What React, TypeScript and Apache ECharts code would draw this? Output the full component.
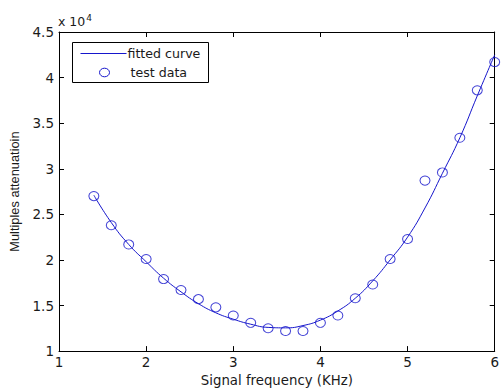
import React, { useEffect, useRef } from "react";
import * as echarts from "echarts";

const testX = [1.4, 1.6, 1.8, 2.0, 2.2, 2.4, 2.6, 2.8, 3.0, 3.2, 3.4, 3.6, 3.8, 4.0, 4.2, 4.4, 4.6, 4.8, 5.0, 5.2, 5.4, 5.6, 5.8, 6.0];
const testY = [27000, 23800, 21700, 20100, 17900, 16700, 15700, 14800, 13900, 13100, 12500, 12200, 12200, 13100, 13900, 15800, 17300, 20100, 22300, 28700, 29600, 33400, 38600, 41700];
const curveX = [1.4, 1.6, 1.8, 2.0, 2.2, 2.4, 2.6, 2.8, 3.0, 3.2, 3.4, 3.6, 3.8, 4.0, 4.2, 4.4, 4.6, 4.8, 5.0, 5.2, 5.4, 5.6, 5.8, 6.0];
const curveY = [27100, 24100, 21700, 19800, 18000, 16500, 15200, 14200, 13500, 12950, 12600, 12550, 12800, 13400, 14400, 15800, 17700, 20000, 22500, 25700, 29500, 33400, 38000, 42500];
const seriesNames = ["fitted curve", "test data"];

const HFONT = "DejaVu Sans";
const VFONT = "Liberation Sans";
const BLUE = "#1616cc";
const TXT = "#1a1a1a";

export default function App() {
  const ref = useRef<HTMLDivElement>(null);
  useEffect(() => {
    if (!ref.current) return;
    const chart = echarts.init(ref.current, undefined, { renderer: "svg" });
    const axisCommon = {
      type: "value" as const,
      axisLine: { show: true, onZero: false, lineStyle: { color: "#000", width: 1 } },
      axisTick: { show: true, inside: true, length: 5, lineStyle: { color: "#000" } },
      splitLine: { show: false },
    };
    chart.setOption({
      animation: false,
      backgroundColor: "#fff",
      textStyle: { fontFamily: HFONT },
      grid: { left: 58, right: 3, top: 32, bottom: 38, containLabel: false },
      xAxis: [
        {
          ...axisCommon,
          min: 1,
          max: 6,
          interval: 1,
          position: "bottom",
          name: "Signal frequency (KHz)",
          nameLocation: "middle",
          nameGap: 21,
          nameTextStyle: { fontFamily: HFONT, fontSize: 13.3, color: TXT },
          axisLabel: { fontFamily: HFONT, fontSize: 13.5, color: TXT, margin: 4 },
        },
        {
          ...axisCommon,
          min: 1,
          max: 6,
          interval: 1,
          position: "top",
          axisLabel: { show: false },
        },
      ],
      yAxis: [
        {
          ...axisCommon,
          min: 10000,
          max: 45000,
          interval: 5000,
          position: "left",
          name: "Multiples attenuatioin",
          nameLocation: "middle",
          nameGap: 38,
          nameTextStyle: { fontFamily: VFONT, fontSize: 12.8, color: TXT },
          axisLabel: {
            fontFamily: HFONT,
            fontSize: 13.5,
            color: TXT,
            margin: 5,
            formatter: (v: number) => String(v / 10000),
          },
        },
        {
          ...axisCommon,
          min: 10000,
          max: 45000,
          interval: 5000,
          position: "right",
          axisLabel: { show: false },
        },
      ],
      graphic: [
        {
          type: "text",
          left: 58,
          top: 13,
          style: {
            text: "x 10{sup|4}",
            fontFamily: HFONT,
            fontSize: 12.5,
            fill: TXT,
            rich: { sup: { fontSize: 9, verticalAlign: "top", padding: [0, 0, 8, 1], fontFamily: HFONT, fill: TXT } },
          },
        },
        {
          type: "group",
          left: 72,
          top: 42,
          children: [
            {
              type: "rect",
              shape: { x: 0, y: 0, width: 136, height: 40 },
              style: { fill: "#fff", stroke: "#000", lineWidth: 1 },
            },
            {
              type: "line",
              shape: { x1: 8, y1: 11, x2: 54, y2: 11 },
              style: { stroke: BLUE, lineWidth: 1 },
            },
            {
              type: "text",
              x: 55,
              y: 11,
              style: { text: seriesNames[0], fontFamily: HFONT, fontSize: 12.6, fill: TXT, verticalAlign: "middle" },
            },
            {
              type: "ellipse",
              shape: { cx: 32, cy: 30, rx: 5, ry: 4.3 },
              style: { fill: "none", stroke: BLUE, lineWidth: 1 },
            },
            {
              type: "text",
              x: 58,
              y: 30,
              style: { text: seriesNames[1], fontFamily: HFONT, fontSize: 12.6, fill: TXT, verticalAlign: "middle" },
            },
          ],
        },
      ],
      series: [
        {
          name: seriesNames[0],
          type: "line",
          smooth: true,
          showSymbol: false,
          symbol: "none",
          data: curveX.map((x, i) => [x, curveY[i]]),
          lineStyle: { color: BLUE, width: 1 },
          itemStyle: { color: BLUE },
          z: 2,
        },
        {
          name: seriesNames[1],
          type: "scatter",
          symbol: "circle",
          symbolSize: [10, 9],
          data: testX.map((x, i) => [x, testY[i]]),
          itemStyle: { color: "rgba(0,0,0,0)", borderColor: BLUE, borderWidth: 1 },
          z: 3,
        },
      ],
    });
    return () => chart.dispose();
  }, []);
  return <div ref={ref} style={{ width: 502, height: 392, position: "absolute", left: 0, top: 0 }} />;
}
